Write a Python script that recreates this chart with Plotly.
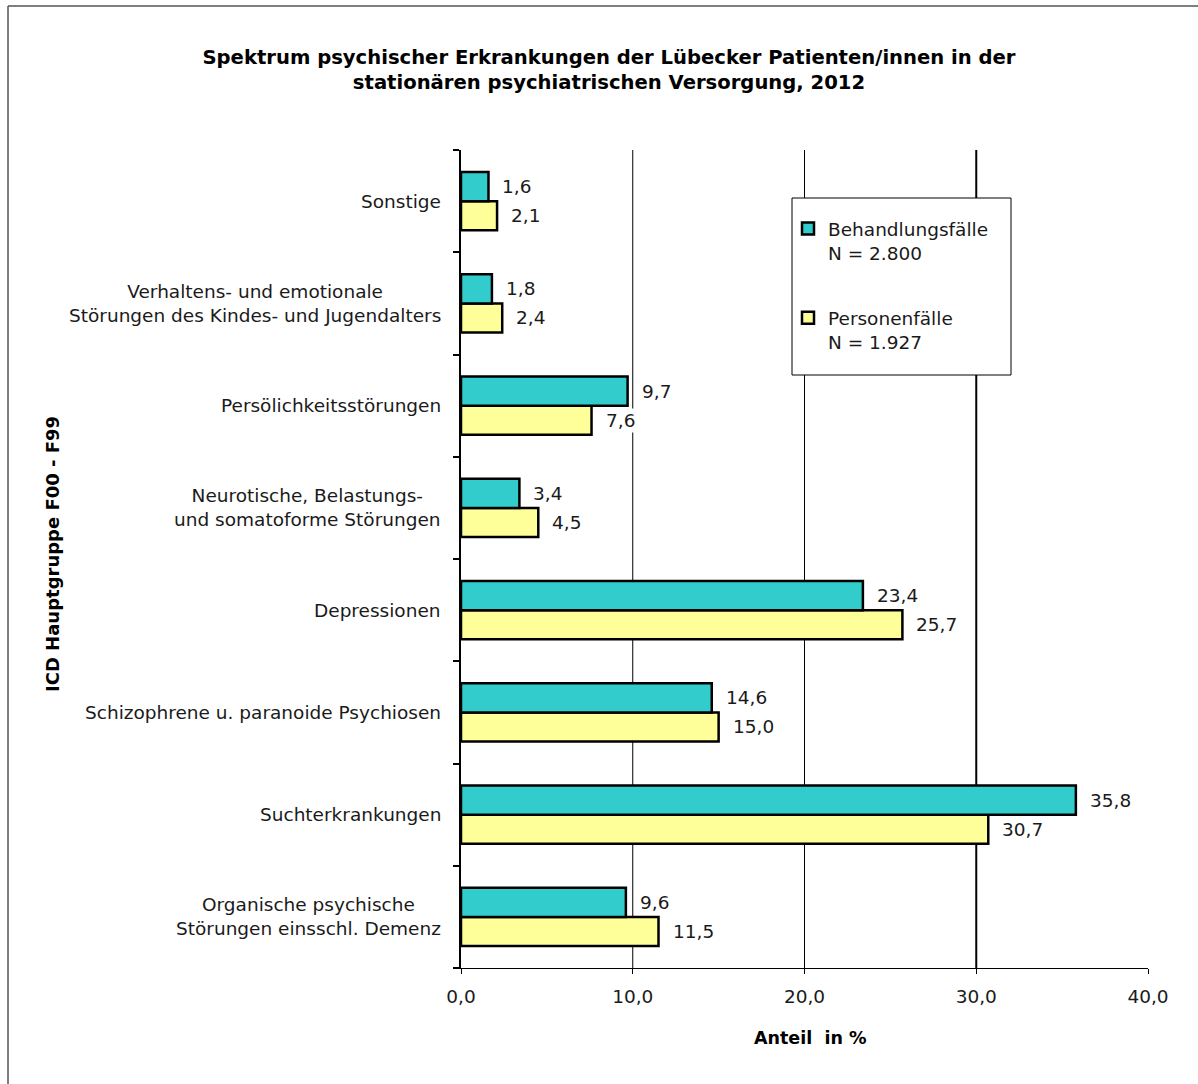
import plotly.graph_objects as go

# ---- data (bottom to top) ----
categories = [
    "Organische psychische<br>Störungen einsschl. Demenz",
    "Suchterkrankungen",
    "Schizophrene u. paranoide Psychiosen",
    "Depressionen",
    "Neurotische, Belastungs-<br>und somatoforme Störungen",
    "Persölichkeitsstörungen",
    "Verhaltens- und emotionale<br>Störungen des Kindes- und Jugendalters",
    "Sonstige",
]
behandlungsfaelle = [9.6, 35.8, 14.6, 23.4, 3.4, 9.7, 1.8, 1.6]
personenfaelle = [11.5, 30.7, 15.0, 25.7, 4.5, 7.6, 2.4, 2.1]
series_names = ["Behandlungsfälle<br>N = 2.800", "Personenfälle<br>N = 1.927"]
x_ticks = [0, 10, 20, 30, 40]
grid_vals = [10, 20, 30]

TEAL = "#33CCCC"
YELLOW = "#FFFF99"
FONT = "DejaVu Sans, Verdana, sans-serif"
TXT = "#1a1a1a"
FS = 18.5

W, H = 1198, 1084
L, R, T, B = 461, 50, 150, 116
PW, PH = W - L - R, H - T - B


def px_x(px):
    return (px - L) / PW


def px_y(py):
    return (H - B - py) / PH


fig = go.Figure()
# yellow first -> lower bar within each group
fig.add_trace(go.Bar(
    y=categories, x=personenfaelle, orientation="h", name=series_names[1],
    marker=dict(color=YELLOW, line=dict(color="black", width=2.5)),
    legendgroup="p", legendrank=2, hoverinfo="x",
))
fig.add_trace(go.Bar(
    y=categories, x=behandlungsfaelle, orientation="h", name=series_names[0],
    marker=dict(color=TEAL, line=dict(color="black", width=2.5)),
    legendgroup="b", legendrank=1, hoverinfo="x",
))

annotations = []
# value labels
for cat, vb, vp in zip(categories, behandlungsfaelle, personenfaelle):
    for v, ys in ((vb, 14.5), (vp, -14.5)):
        annotations.append(dict(
            x=v, y=cat, xref="x", yref="y", text=f"{v:.1f}".replace(".", ","),
            showarrow=False, xanchor="left", yanchor="middle", xshift=12, yshift=ys,
            bgcolor="white", font=dict(family=FONT, size=FS, color=TXT),
        ))
# category labels (centered multi-line, right aligned block)
for cat in categories:
    annotations.append(dict(
        x=px_x(443), y=cat, xref="paper", yref="y", text=cat, showarrow=False,
        xanchor="right", yanchor="middle", align="center",
        font=dict(family=FONT, size=FS, color=TXT),
    ))
# axis titles
annotations.append(dict(
    x=px_x(52), y=px_y(554), xref="paper", yref="paper",
    text="<b>ICD Hauptgruppe F00 - F99</b>", textangle=-90, showarrow=False,
    xanchor="center", yanchor="middle", font=dict(family=FONT, size=18, color="black"),
))
annotations.append(dict(
    x=px_x(810), y=px_y(1038), xref="paper", yref="paper",
    text="<b>Anteil  in %</b>", showarrow=False,
    xanchor="center", yanchor="middle", font=dict(family=FONT, size=17.5, color="black"),
))

shapes = []
for g, w in zip(grid_vals, [1, 1, 2]):
    shapes.append(dict(type="line", xref="x", yref="paper", x0=g, x1=g, y0=0, y1=1,
                       line=dict(color="black", width=w), layer="below"))
# legend box
shapes.append(dict(type="rect", xref="paper", yref="paper",
                   x0=px_x(792), x1=px_x(1011), y0=px_y(375), y1=px_y(198),
                   line=dict(color="black", width=1), fillcolor="white", layer="above"))
# outer frame (left and top)
shapes.append(dict(type="line", xref="paper", yref="paper",
                   x0=px_x(8), x1=px_x(8), y0=px_y(6), y1=px_y(1084),
                   line=dict(color="black", width=1)))
shapes.append(dict(type="line", xref="paper", yref="paper",
                   x0=px_x(8), x1=px_x(1198), y0=px_y(6), y1=px_y(6),
                   line=dict(color="#555555", width=1.5)))

fig.update_layout(
    width=W, height=H,
    margin=dict(l=L, r=R, t=T, b=B, autoexpand=False),
    paper_bgcolor="white", plot_bgcolor="white",
    separators=",.",
    barmode="group", bargap=0.43, bargroupgap=0,
    font=dict(family=FONT, size=FS, color=TXT),
    title=dict(
        text="<b>Spektrum psychischer Erkrankungen der Lübecker Patienten/innen in der<br>"
             "stationären psychiatrischen Versorgung, 2012</b>",
        x=609 / W, xref="container", xanchor="center",
        y=1 - 64 / H, yref="container", yanchor="middle",
        font=dict(family=FONT, size=19.6, color="black"),
    ),
    xaxis=dict(
        range=[0, 40], tickvals=x_ticks, tickformat=".1f",
        showgrid=False, zeroline=False,
        showline=True, linecolor="black", linewidth=1,
        ticks="outside", ticklen=5, tickcolor="black", tickwidth=1,
        ticklabelstandoff=7,
        tickfont=dict(family=FONT, size=FS, color=TXT),
        fixedrange=True,
    ),
    yaxis=dict(
        categoryorder="array", categoryarray=categories,
        showticklabels=False, showgrid=False, zeroline=False,
        showline=True, linecolor="black", linewidth=2,
        ticks="outside", tickson="boundaries", ticklen=6, tickcolor="black", tickwidth=2,
        fixedrange=True,
    ),
    showlegend=True,
    legend=dict(
        x=px_x(788), y=px_y(210), xanchor="left", yanchor="top",
        bgcolor="rgba(0,0,0,0)", borderwidth=0,
        traceorder="grouped", tracegroupgap=38, valign="top",
        font=dict(family=FONT, size=FS, color=TXT),
    ),
    annotations=annotations,
    shapes=shapes,
)

fig.write_html("out.html")
